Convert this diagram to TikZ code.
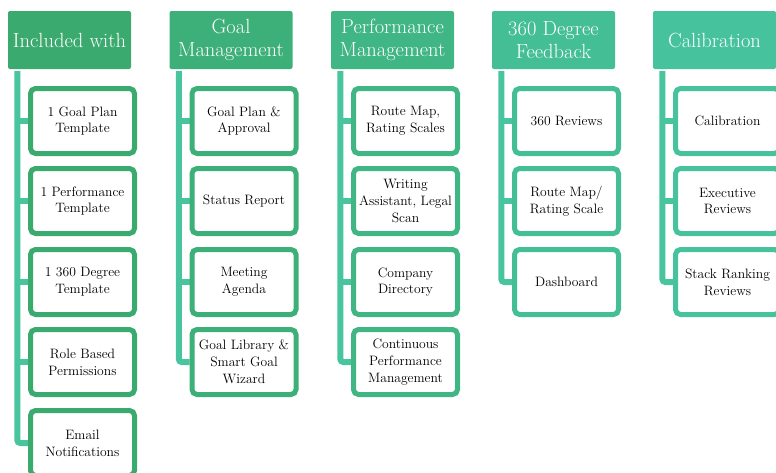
\documentclass[tikz,border=0pt]{standalone}
\usetikzlibrary{calc,backgrounds}
\definecolor{gA}{HTML}{3AAA6E}
\definecolor{gB}{HTML}{3CB078}
\definecolor{gC}{HTML}{3FB683}
\definecolor{gD}{HTML}{44BE94}
\definecolor{gE}{HTML}{46C39D}
\definecolor{lineC}{HTML}{48C49E}
\tikzset{
  hdr/.style={fill=#1, rounded corners=2pt, minimum width=123pt, minimum height=58pt,
    inner sep=1pt, align=center, text=white, font=\fontsize{20.5}{22.5}\selectfont},
  item/.style={draw=#1, line width=5pt, fill=white, rounded corners=5pt,
    minimum width=104pt, minimum height=65pt, inner sep=0pt, align=center,
    text=black, font=\fontsize{13.6}{16.8}\selectfont},
  conn/.style={draw=lineC, line width=6pt, rounded corners=3pt}
}
\begin{document}
\begin{tikzpicture}[x=1pt,y=-1pt]
\useasboundingbox (0,0) rectangle (776,472);
% column 1
\node[hdr=gA] (h1) at (69.5,40) {Included with};
\node[item=gA] (c11) at (82.5,121) {1 Goal Plan\\Template};
\node[item=gA] (c12) at (82.5,201) {1 Performance\\Template};
\node[item=gA] (c13) at (82.5,282) {1 360 Degree\\Template};
\node[item=gA] (c14) at (82.5,362) {Role Based\\Permissions};
\node[item=gA] (c15) at (82.5,443) {Email\\Notifications};
\coordinate (t1) at ($(h1.south west)+(9.5,2)$);
% column 2
\node[hdr=gB] (h2) at (231,40) {Goal\\Management};
\node[item=gB] (c21) at (244,121) {Goal Plan \&\\Approval};
\node[item=gB] (c22) at (244,201) {Status Report};
\node[item=gB] (c23) at (244,282) {Meeting\\Agenda};
\node[item=gB] (c24) at (244,362) {Goal Library \&\\Smart Goal\\Wizard};
\coordinate (t2) at ($(h2.south west)+(9.5,2)$);
% column 3
\node[hdr=gC] (h3) at (392.5,40) {Performance\\Management};
\node[item=gC] (c31) at (405.5,121) {Route Map,\\Rating Scales};
\node[item=gC] (c32) at (405.5,201) {Writing\\Assistant, Legal\\Scan};
\node[item=gC] (c33) at (405.5,282) {Company\\Directory};
\node[item=gC] (c34) at (405.5,362) {Continuous\\Performance\\Management};
\coordinate (t3) at ($(h3.south west)+(9.5,2)$);
% column 4
\node[hdr=gD] (h4) at (553.5,40) {360 Degree\\Feedback};
\node[item=gD] (c41) at (566.5,121) {360 Reviews};
\node[item=gD] (c42) at (566.5,201) {Route Map/\\Rating Scale};
\node[item=gD] (c43) at (566.5,282) {Dashboard};
\coordinate (t4) at ($(h4.south west)+(9.5,2)$);
% column 5
\node[hdr=gE] (h5) at (714.5,40) {Calibration};
\node[item=gE] (c51) at (727.5,121) {Calibration};
\node[item=gE] (c52) at (727.5,201) {Executive\\Reviews};
\node[item=gE] (c53) at (727.5,282) {Stack Ranking\\Reviews};
\coordinate (t5) at ($(h5.south west)+(9.5,2)$);
% connectors
\begin{scope}[on background layer]
\draw[conn] (t1) |- (c15.west);
\foreach \c in {c11,c12,c13,c14} \draw[conn] (t1 |- \c.west) -- (\c.west);
\draw[conn] (t2) |- (c24.west);
\foreach \c in {c21,c22,c23} \draw[conn] (t2 |- \c.west) -- (\c.west);
\draw[conn] (t3) |- (c34.west);
\foreach \c in {c31,c32,c33} \draw[conn] (t3 |- \c.west) -- (\c.west);
\draw[conn] (t4) |- (c43.west);
\foreach \c in {c41,c42} \draw[conn] (t4 |- \c.west) -- (\c.west);
\draw[conn] (t5) |- (c53.west);
\foreach \c in {c51,c52} \draw[conn] (t5 |- \c.west) -- (\c.west);
\end{scope}
\end{tikzpicture}
\end{document}
